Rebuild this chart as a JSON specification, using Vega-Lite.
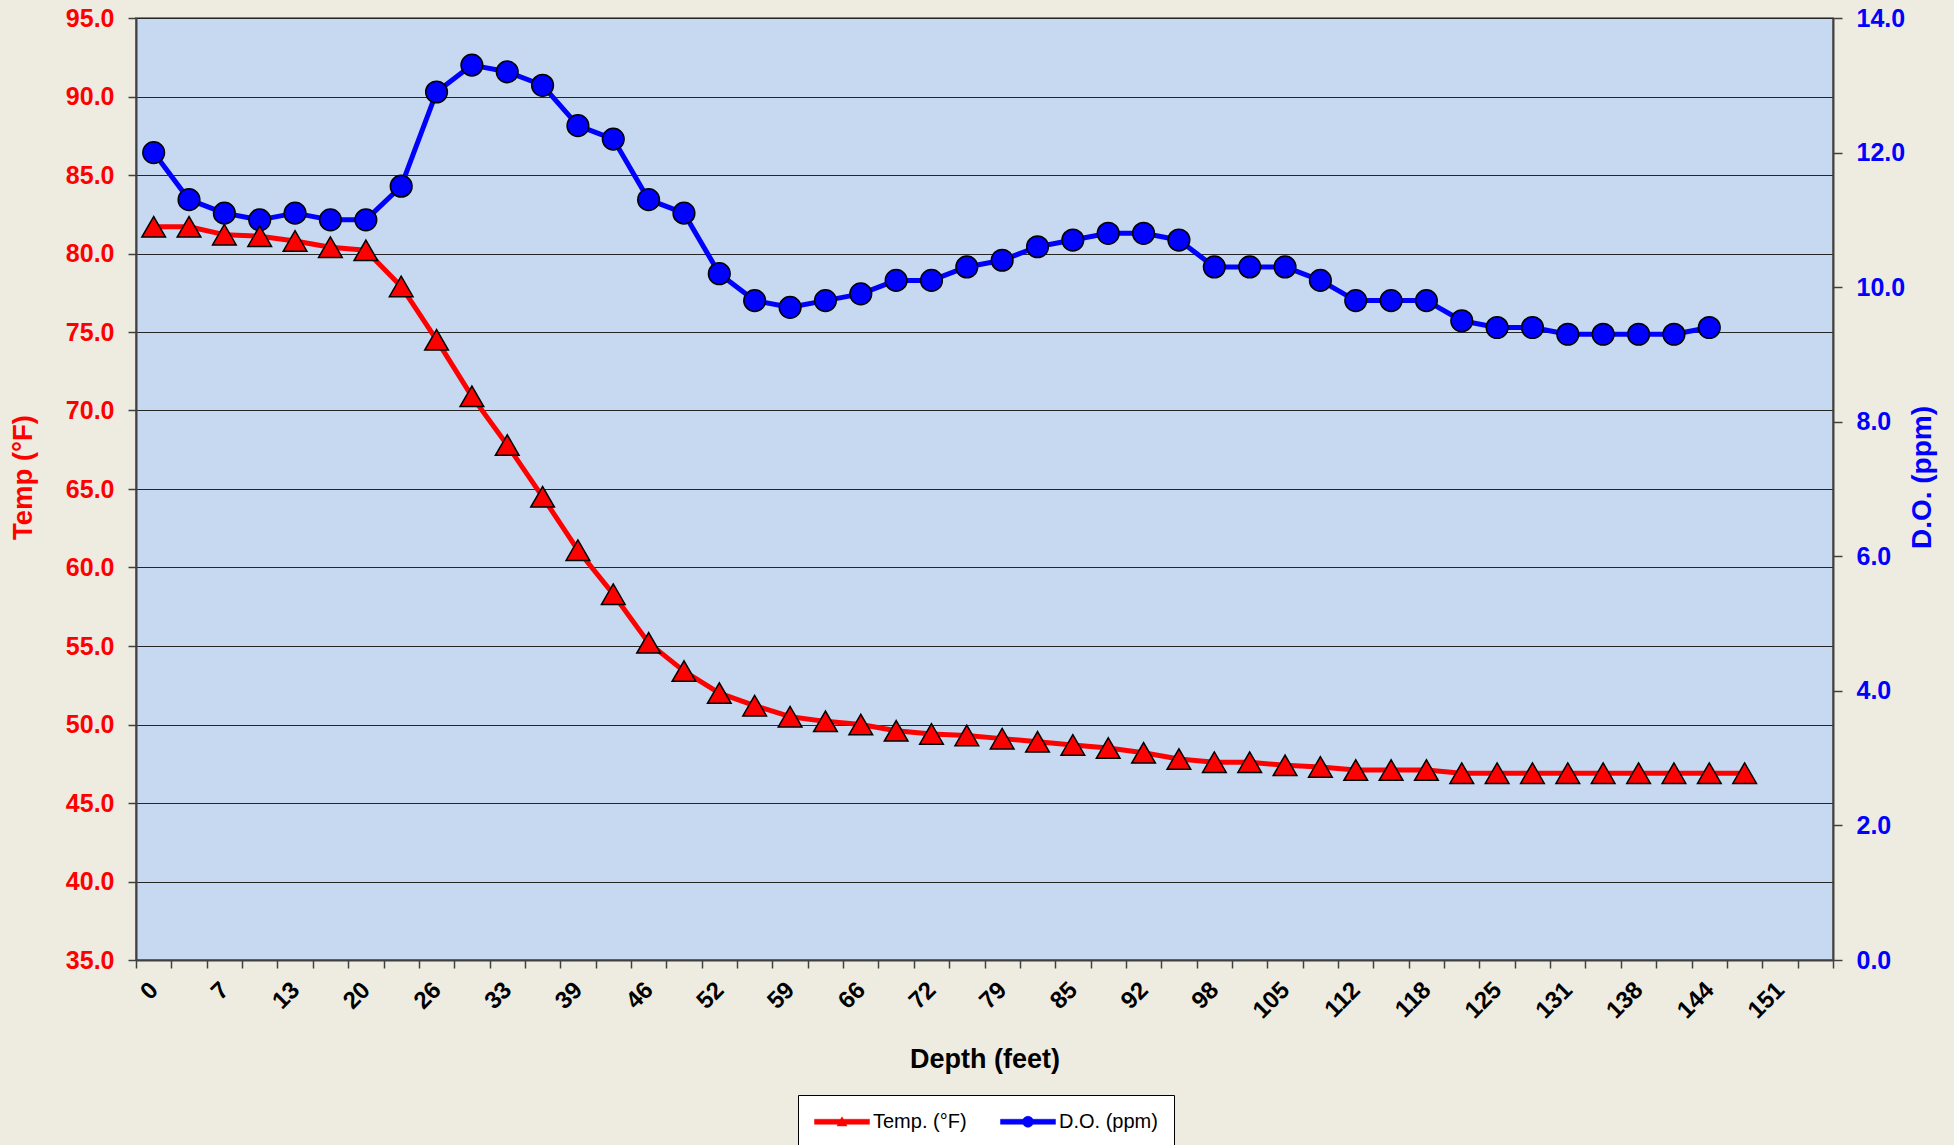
{
  "$schema": "https://vega.github.io/schema/vega-lite/v6.json",
  "width": 1697,
  "height": 942,
  "autosize": "none",
  "padding": {"left": 136, "top": 18, "right": 121, "bottom": 185},
  "background": "#EEECE1",
  "config": {
    "font": "Liberation Sans",
    "view": {"fill": "#C6D9F0", "stroke": "#808080", "strokeWidth": 2},
    "axis": {"labelFont": "Liberation Sans", "titleFont": "Liberation Sans", "labelFontWeight": "bold", "titleFontWeight": "bold", "domainColor": "#404040", "domainWidth": 2, "tickColor": "#404040", "tickWidth": 1.5}
  },
  "data": {"values": [
    {"depth": 0, "temp": 81.7, "do": 12.0},
    {"depth": 3.28, "temp": 81.7, "do": 11.3},
    {"depth": 6.56, "temp": 81.2, "do": 11.1},
    {"depth": 9.84, "temp": 81.1, "do": 11.0},
    {"depth": 13.12, "temp": 80.8, "do": 11.1},
    {"depth": 16.4, "temp": 80.4, "do": 11.0},
    {"depth": 19.69, "temp": 80.2, "do": 11.0},
    {"depth": 22.97, "temp": 77.9, "do": 11.5},
    {"depth": 26.25, "temp": 74.5, "do": 12.9},
    {"depth": 29.53, "temp": 70.9, "do": 13.3},
    {"depth": 32.81, "temp": 67.8, "do": 13.2},
    {"depth": 36.09, "temp": 64.5, "do": 13.0},
    {"depth": 39.37, "temp": 61.1, "do": 12.4},
    {"depth": 42.65, "temp": 58.3, "do": 12.2},
    {"depth": 45.93, "temp": 55.2, "do": 11.3},
    {"depth": 49.21, "temp": 53.4, "do": 11.1},
    {"depth": 52.49, "temp": 52.0, "do": 10.2},
    {"depth": 55.77, "temp": 51.2, "do": 9.8},
    {"depth": 59.06, "temp": 50.5, "do": 9.7},
    {"depth": 62.34, "temp": 50.2, "do": 9.8},
    {"depth": 65.62, "temp": 50.0, "do": 9.9},
    {"depth": 68.9, "temp": 49.6, "do": 10.1},
    {"depth": 72.18, "temp": 49.4, "do": 10.1},
    {"depth": 75.46, "temp": 49.3, "do": 10.3},
    {"depth": 78.74, "temp": 49.1, "do": 10.4},
    {"depth": 82.02, "temp": 48.9, "do": 10.6},
    {"depth": 85.3, "temp": 48.7, "do": 10.7},
    {"depth": 88.58, "temp": 48.5, "do": 10.8},
    {"depth": 91.86, "temp": 48.2, "do": 10.8},
    {"depth": 95.14, "temp": 47.8, "do": 10.7},
    {"depth": 98.43, "temp": 47.6, "do": 10.3},
    {"depth": 101.71, "temp": 47.6, "do": 10.3},
    {"depth": 104.99, "temp": 47.4, "do": 10.3},
    {"depth": 108.27, "temp": 47.3, "do": 10.1},
    {"depth": 111.55, "temp": 47.1, "do": 9.8},
    {"depth": 114.83, "temp": 47.1, "do": 9.8},
    {"depth": 118.11, "temp": 47.1, "do": 9.8},
    {"depth": 121.39, "temp": 46.9, "do": 9.5},
    {"depth": 124.67, "temp": 46.9, "do": 9.4},
    {"depth": 127.95, "temp": 46.9, "do": 9.4},
    {"depth": 131.23, "temp": 46.9, "do": 9.3},
    {"depth": 134.51, "temp": 46.9, "do": 9.3},
    {"depth": 137.8, "temp": 46.9, "do": 9.3},
    {"depth": 141.08, "temp": 46.9, "do": 9.3},
    {"depth": 144.36, "temp": 46.9, "do": 9.4},
    {"depth": 147.64, "temp": 46.9, "do": null}
  ]},
  "encoding": {
    "x": {
      "field": "depth", "type": "quantitative",
      "scale": {"domain": [-1.64, 155.84], "nice": false, "zero": false},
      "axis": {
        "title": "Depth (feet)",
        "titleFontSize": 27, "titleColor": "#000000", "titlePadding": 24,
        "values": [-1.64, 1.64, 4.92, 8.2, 11.48, 14.76, 18.04, 21.33, 24.61, 27.89, 31.17, 34.45, 37.73, 41.01, 44.29, 47.57, 50.85, 54.13, 57.41, 60.7, 63.98, 67.26, 70.54, 73.82, 77.1, 80.38, 83.66, 86.94, 90.22, 93.5, 96.78, 100.07, 103.35, 106.63, 109.91, 113.19, 116.47, 119.75, 123.03, 126.31, 129.59, 132.87, 136.15, 139.44, 142.72, 146.0, 149.28, 152.56, 155.84],
        "labelExpr": "(round((datum.value + 1.64042) / 3.28084) % 2 == 0 && datum.value < 152) ? format(datum.value + 1.64042, '.0f') : ''",
        "labelAngle": -45, "labelAlign": "right", "labelBaseline": "middle",
        "labelOffset": 18, "labelPadding": 18, "labelFontSize": 24, "labelColor": "#000000",
        "labelOverlap": false, "labelBound": false, "labelFlush": false,
        "tickSize": 8, "grid": false
      }
    }
  },
  "layer": [
    {
      "encoding": {
        "y": {
          "field": "do", "type": "quantitative",
          "scale": {"domain": [0, 14], "nice": false, "zero": false},
          "axis": {
            "orient": "right", "title": "D.O. (ppm)", "values": [0, 2, 4, 6, 8, 10, 12, 14], "format": ".1f",
            "labelColor": "#0000FF", "titleColor": "#0000FF", "labelFontSize": 25, "titleFontSize": 28,
            "tickSize": 9, "labelPadding": 14, "titlePadding": 4, "titleAngle": 270, "titleBaseline": "top", "titleY": 459, "grid": false
          }
        }
      },
      "layer": [
        {
          "mark": {"type": "line", "strokeWidth": 5, "strokeJoin": "round", "strokeCap": "round"},
          "encoding": {
            "color": {
              "datum": "D.O. (ppm)", "type": "nominal",
              "scale": {"domain": ["Temp. (°F)", "D.O. (ppm)"], "range": ["#FF0000", "#0000FF"]},
              "legend": {
                "orient": "none", "legendX": 662, "legendY": 1077, "direction": "horizontal", "title": null,
                "fillColor": "#FFFFFF", "strokeColor": "#000000", "padding": 16,
                "labelFontSize": 20, "labelFont": "Liberation Sans", "labelFontWeight": "normal", "labelColor": "#000000",
                "symbolSize": 400, "labelOffset": 38, "columnPadding": 32,
                "encode": {"symbols": {"update": {
                  "shape": {"signal": "datum.value === 'Temp. (°F)' ? 'M-1,-0.25H4.5V0.25H-1Z M1.75,-0.5L2.25,0.42H1.25Z' : 'M-1,-0.25H4.5V0.25H-1Z M2.3,0A0.55,0.55 0 1 1 1.2,0A0.55,0.55 0 1 1 2.3,0Z'"},
                  "fill": {"signal": "datum.value === 'Temp. (°F)' ? '#FF0000' : '#0000FF'"},
                  "stroke": {"signal": "datum.value === 'Temp. (°F)' ? '#FF0000' : '#0000FF'"},
                  "strokeWidth": {"value": 0.5},
                  "opacity": {"value": 1}
                }}}
              }
            }
          }
        },
        {
          "mark": {"type": "point", "shape": "circle", "size": 470, "filled": true, "fill": "#0000FF", "stroke": "#000000", "strokeWidth": 1.5, "opacity": 1}
        }
      ]
    },
    {
      "encoding": {
        "y": {
          "field": "temp", "type": "quantitative",
          "scale": {"domain": [35, 95], "nice": false, "zero": false},
          "axis": {
            "orient": "left", "title": "Temp (°F)", "values": [35, 40, 45, 50, 55, 60, 65, 70, 75, 80, 85, 90, 95], "format": ".1f",
            "labelColor": "#FF0000", "titleColor": "#FF0000", "labelFontSize": 25, "titleFontSize": 27.5,
            "tickSize": 8, "labelPadding": 14, "titlePadding": 28, "titleY": 459,
            "grid": true, "gridColor": "#262626", "gridWidth": 1
          }
        }
      },
      "layer": [
        {
          "mark": {"type": "line", "strokeWidth": 5, "strokeJoin": "round", "strokeCap": "round"},
          "encoding": {
            "color": {
              "datum": "Temp. (°F)", "type": "nominal",
              "scale": {"domain": ["Temp. (°F)", "D.O. (ppm)"], "range": ["#FF0000", "#0000FF"]},
              "legend": {
                "orient": "none", "legendX": 662, "legendY": 1077, "direction": "horizontal", "title": null,
                "fillColor": "#FFFFFF", "strokeColor": "#000000", "padding": 16,
                "labelFontSize": 20, "labelFont": "Liberation Sans", "labelFontWeight": "normal", "labelColor": "#000000",
                "symbolSize": 400, "labelOffset": 38, "columnPadding": 32,
                "encode": {"symbols": {"update": {
                  "shape": {"signal": "datum.value === 'Temp. (°F)' ? 'M-1,-0.25H4.5V0.25H-1Z M1.75,-0.5L2.25,0.42H1.25Z' : 'M-1,-0.25H4.5V0.25H-1Z M2.3,0A0.55,0.55 0 1 1 1.2,0A0.55,0.55 0 1 1 2.3,0Z'"},
                  "fill": {"signal": "datum.value === 'Temp. (°F)' ? '#FF0000' : '#0000FF'"},
                  "stroke": {"signal": "datum.value === 'Temp. (°F)' ? '#FF0000' : '#0000FF'"},
                  "strokeWidth": {"value": 0.5},
                  "opacity": {"value": 1}
                }}}
              }
            }
          }
        },
        {
          "mark": {"type": "point", "shape": "triangle-up", "size": 560, "filled": true, "fill": "#FF0000", "stroke": "#000000", "strokeWidth": 1.5, "opacity": 1}
        }
      ]
    }
  ],
  "resolve": {"scale": {"y": "independent"}}
}
